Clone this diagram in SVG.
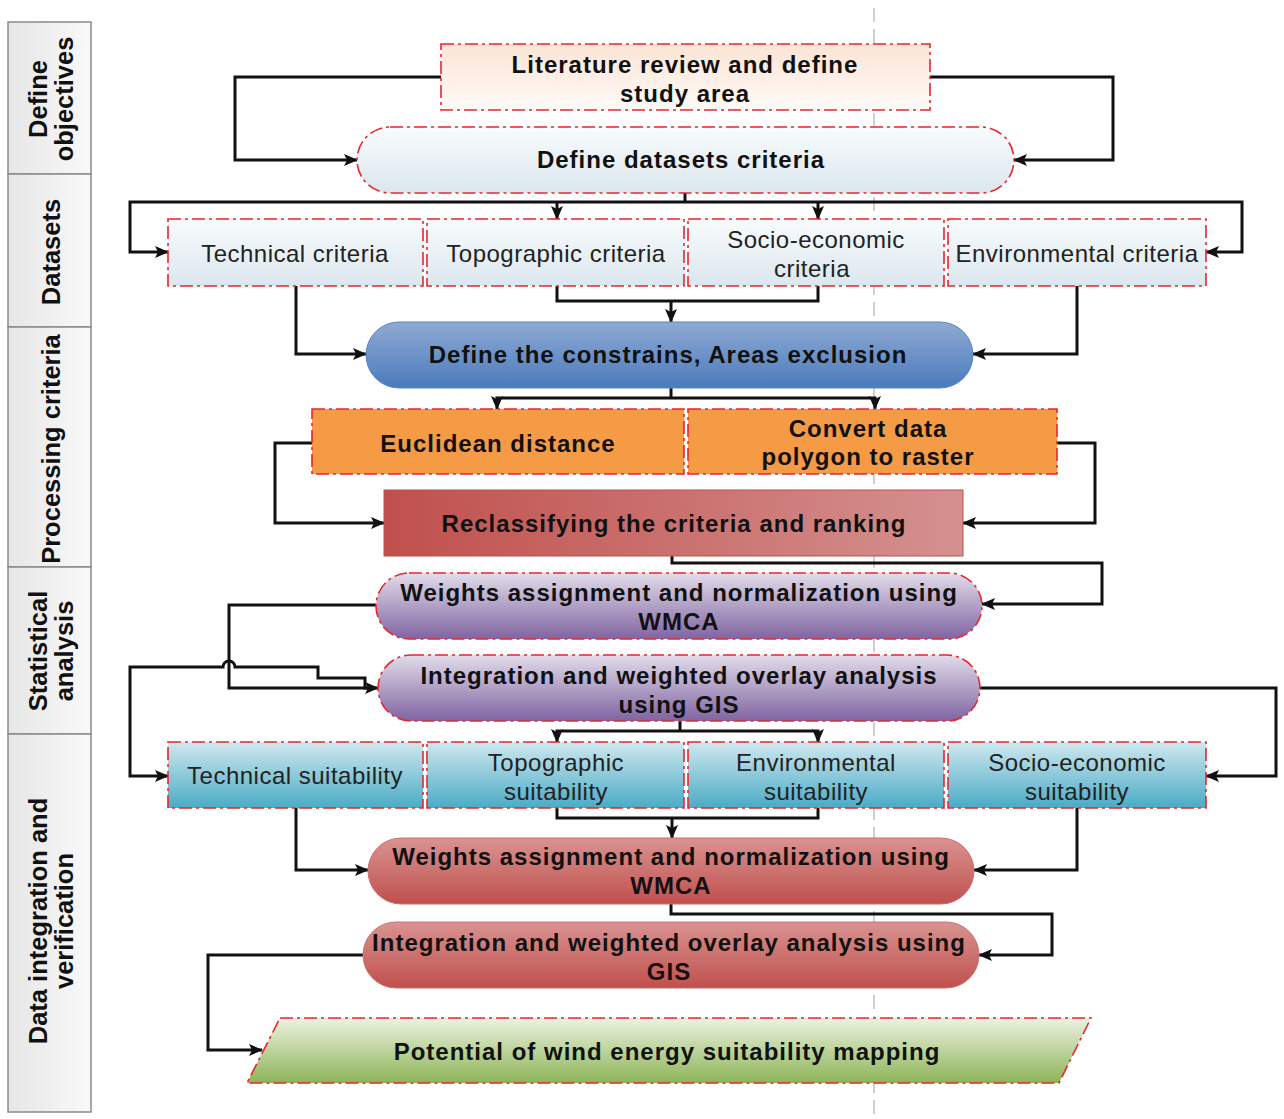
<svg xmlns="http://www.w3.org/2000/svg" width="1284" height="1119" viewBox="0 0 1284 1119">
<defs>
<style>
.dd{stroke:#e8262e;stroke-width:1.6;stroke-dasharray:13 4 3 4}
.b{font-family:"Liberation Sans",Arial,sans-serif;font-weight:bold;font-size:24px;letter-spacing:1px;fill:#111;text-anchor:middle}
.r{font-family:"Liberation Sans",Arial,sans-serif;font-size:24px;letter-spacing:0.5px;fill:#222;text-anchor:middle}
.s{font-family:"Liberation Sans",Arial,sans-serif;font-weight:bold;font-size:25.5px;fill:#111;text-anchor:middle}
.c{fill:none;stroke:#111;stroke-width:3}
.a{marker-end:url(#arr)}
.lane{fill:url(#gSide);stroke:#8a8a8a;stroke-width:1.5}
</style>
<marker id="arr" markerWidth="14" markerHeight="12" refX="13" refY="6" orient="auto" markerUnits="userSpaceOnUse">
<path d="M0,0 L14,6 L0,12 L3,6 z" fill="#111"/>
</marker>
<linearGradient id="gSide" x1="0" y1="0" x2="1" y2="0"><stop offset="0" stop-color="#e6e6e6"/><stop offset="1" stop-color="#f9f9f9"/></linearGradient>
<linearGradient id="gPeach" x1="0" y1="0" x2="0" y2="1"><stop offset="0" stop-color="#fbe4d5"/><stop offset="1" stop-color="#fffaf7"/></linearGradient>
<linearGradient id="gLight" x1="0" y1="0" x2="0" y2="1"><stop offset="0" stop-color="#f8fbfc"/><stop offset="1" stop-color="#dbe7ee"/></linearGradient>
<linearGradient id="gBlue" x1="0" y1="0" x2="0" y2="1"><stop offset="0" stop-color="#8eaad4"/><stop offset="1" stop-color="#4a7bbd"/></linearGradient>
<linearGradient id="gReclass" x1="0" y1="0" x2="1" y2="0"><stop offset="0" stop-color="#c0504d"/><stop offset="1" stop-color="#d49190"/></linearGradient>
<linearGradient id="gPurple" x1="0" y1="0" x2="0" y2="1"><stop offset="0" stop-color="#e2dcea"/><stop offset="1" stop-color="#8064a2"/></linearGradient>
<linearGradient id="gTeal" x1="0" y1="0" x2="0" y2="1"><stop offset="0" stop-color="#d0e8ef"/><stop offset="1" stop-color="#4aabc6"/></linearGradient>
<linearGradient id="gRed" x1="0" y1="0" x2="0" y2="1"><stop offset="0" stop-color="#d99391"/><stop offset="1" stop-color="#c0504d"/></linearGradient>
<linearGradient id="gGreen" x1="0" y1="0" x2="0" y2="1"><stop offset="0" stop-color="#ecf2e1"/><stop offset="1" stop-color="#8db456"/></linearGradient>
</defs>
<rect width="1284" height="1119" fill="#ffffff"/>

<!-- guide line -->
<line x1="874" y1="8" x2="874" y2="1119" stroke="#b0b0b0" stroke-width="1.2" stroke-dasharray="14 7"/>

<!-- sidebar lanes -->
<g id="lane-define">
<rect class="lane" x="8" y="22" width="83" height="152"/>
<text class="s" transform="translate(47,99) rotate(-90)">Define</text>
<text class="s" transform="translate(73,99) rotate(-90)">objectives</text>
</g>
<g id="lane-datasets">
<rect class="lane" x="8" y="174" width="83" height="153"/>
<text class="s" transform="translate(60,252) rotate(-90)">Datasets</text>
</g>
<g id="lane-processing">
<rect class="lane" x="8" y="327" width="83" height="240"/>
<text class="s" transform="translate(60,449) rotate(-90)">Processing criteria</text>
</g>
<g id="lane-statistical">
<rect class="lane" x="8" y="567" width="83" height="167"/>
<text class="s" transform="translate(47,651) rotate(-90)">Statistical</text>
<text class="s" transform="translate(73,651) rotate(-90)">analysis</text>
</g>
<g id="lane-integration">
<rect class="lane" x="8" y="734" width="83" height="378"/>
<text class="s" transform="translate(47,921) rotate(-90)">Data integration and</text>
<text class="s" transform="translate(73,921) rotate(-90)">verification</text>
</g>

<!-- connectors -->
<g id="connectors">
<path class="c a" d="M441,77 H235 V160 H357"/>
<path class="c a" d="M930,77 H1113 V160 H1014"/>
<path class="c" d="M685,193 V202"/>
<path class="c a" d="M685,202 H130 V252 H168"/>
<path class="c a" d="M685,202 H1242 V252 H1206"/>
<path class="c a" d="M557,202 V219"/>
<path class="c a" d="M818,202 V219"/>
<path class="c a" d="M296,286 V354 H366"/>
<path class="c" d="M557,286 V301 H818 V286"/>
<path class="c a" d="M671,301 V322"/>
<path class="c a" d="M1077,286 V354 H973"/>
<path class="c" d="M671,388 V398"/>
<path class="c a" d="M671,398 H497 V409"/>
<path class="c a" d="M671,398 H875 V409"/>
<path class="c a" d="M312,443 H275 V523 H384"/>
<path class="c a" d="M1057,443 H1095 V523 H963"/>
<path class="c a" d="M672,556 V563 H1102 V604 H982"/>
<path class="c a" d="M376,605 H229 V688 H378"/>
<path class="c a" d="M372,688 H365 V678 H318 V667 H235 A6,6 0 0 0 223,667 H130 V776 H168"/>
<path class="c a" d="M980,688 H1276 V776 H1206"/>
<path class="c" d="M680,721 V731"/>
<path class="c a" d="M680,731 H557 V742"/>
<path class="c a" d="M680,731 H818 V742"/>
<path class="c a" d="M296,808 V870 H368"/>
<path class="c" d="M557,808 V818 H818 V808"/>
<path class="c a" d="M672,818 V838"/>
<path class="c a" d="M1077,808 V870 H974"/>
<path class="c a" d="M671,904 V914 H1052 V955 H979"/>
<path class="c a" d="M363,955 H208 V1050 H262"/>
</g>

<!-- nodes -->
<g id="literature">
<rect class="dd" x="441" y="44" width="489" height="66" fill="url(#gPeach)"/>
<text class="b" x="685" y="73">Literature review and define</text>
<text class="b" x="685" y="102">study area</text>
</g>
<g id="define-datasets">
<rect class="dd" x="357" y="127" width="657" height="66" rx="33" fill="url(#gLight)"/>
<text class="b" x="681" y="168">Define datasets criteria</text>
</g>
<g id="technical-criteria">
<rect class="dd" x="168" y="219" width="255" height="67" fill="url(#gLight)"/>
<text class="r" x="295" y="262">Technical criteria</text>
</g>
<g id="topographic-criteria">
<rect class="dd" x="427" y="219" width="257" height="67" fill="url(#gLight)"/>
<text class="r" x="556" y="262">Topographic criteria</text>
</g>
<g id="socio-criteria">
<rect class="dd" x="688" y="219" width="256" height="67" fill="url(#gLight)"/>
<text class="r" x="816" y="248">Socio-economic</text>
<text class="r" x="812" y="277">criteria</text>
</g>
<g id="environmental-criteria">
<rect class="dd" x="948" y="219" width="258" height="67" fill="url(#gLight)"/>
<text class="r" x="1077" y="262">Environmental criteria</text>
</g>
<g id="constrains">
<rect x="366" y="322" width="607" height="66" rx="33" fill="url(#gBlue)" stroke="#5b84bf" stroke-width="1"/>
<text class="b" x="668" y="363">Define the constrains, Areas exclusion</text>
</g>
<g id="euclidean">
<rect class="dd" x="312" y="409" width="372" height="65" fill="#f59a45"/>
<text class="b" x="498" y="452">Euclidean distance</text>
</g>
<g id="convert">
<rect class="dd" x="688" y="409" width="369" height="65" fill="#f59a45"/>
<text class="b" x="868" y="437">Convert data</text>
<text class="b" x="868" y="465">polygon to raster</text>
</g>
<g id="reclassify">
<rect x="384" y="490" width="579" height="66" fill="url(#gReclass)" stroke="#b9504d" stroke-width="1"/>
<text class="b" x="674" y="532">Reclassifying the criteria and ranking</text>
</g>
<g id="weights-1">
<rect class="dd" x="376" y="573" width="606" height="66" rx="33" fill="url(#gPurple)"/>
<text class="b" x="679" y="601">Weights assignment and normalization using</text>
<text class="b" x="679" y="630">WMCA</text>
</g>
<g id="integration-1">
<rect class="dd" x="378" y="655" width="602" height="66" rx="33" fill="url(#gPurple)"/>
<text class="b" x="679" y="684">Integration and weighted overlay analysis</text>
<text class="b" x="679" y="713">using GIS</text>
</g>
<g id="technical-suitability">
<rect class="dd" x="168" y="742" width="255" height="66" fill="url(#gTeal)"/>
<text class="r" x="295" y="784">Technical suitability</text>
</g>
<g id="topographic-suitability">
<rect class="dd" x="427" y="742" width="257" height="66" fill="url(#gTeal)"/>
<text class="r" x="556" y="771">Topographic</text>
<text class="r" x="556" y="800">suitability</text>
</g>
<g id="environmental-suitability">
<rect class="dd" x="688" y="742" width="256" height="66" fill="url(#gTeal)"/>
<text class="r" x="816" y="771">Environmental</text>
<text class="r" x="816" y="800">suitability</text>
</g>
<g id="socio-suitability">
<rect class="dd" x="948" y="742" width="258" height="66" fill="url(#gTeal)"/>
<text class="r" x="1077" y="771">Socio-economic</text>
<text class="r" x="1077" y="800">suitability</text>
</g>
<g id="weights-2">
<rect x="368" y="838" width="606" height="66" rx="33" fill="url(#gRed)" stroke="#c9706e" stroke-width="1"/>
<text class="b" x="671" y="865">Weights assignment and normalization using</text>
<text class="b" x="671" y="894">WMCA</text>
</g>
<g id="integration-2">
<rect x="363" y="922" width="616" height="66" rx="33" fill="url(#gRed)" stroke="#c9706e" stroke-width="1"/>
<text class="b" x="669" y="951">Integration and weighted overlay analysis using</text>
<text class="b" x="669" y="980">GIS</text>
</g>
<g id="potential">
<polygon class="dd" points="280,1018 1091,1018 1059,1083 247,1083" fill="url(#gGreen)"/>
<text class="b" x="667" y="1060">Potential of wind energy suitability mapping</text>
</g>
</svg>
